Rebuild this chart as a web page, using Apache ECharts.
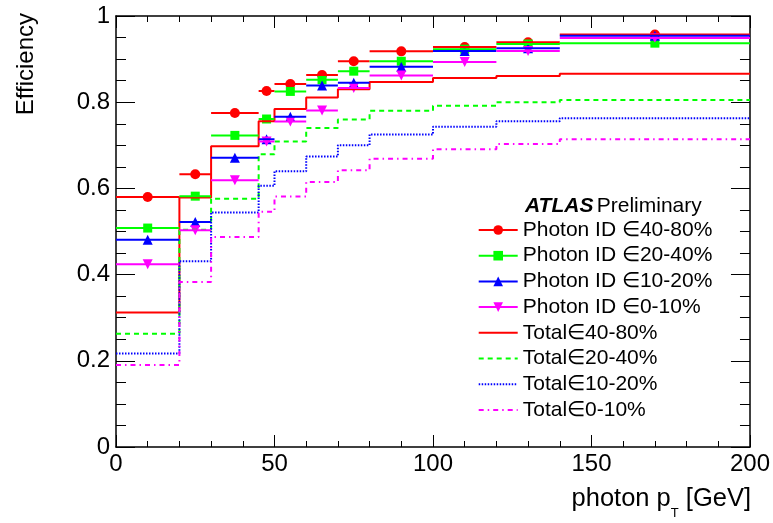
<!DOCTYPE html>
<html>
<head>
<meta charset="utf-8">
<script src="https://cdn.jsdelivr.net/npm/echarts@6/dist/echarts.min.js"></script>
<style>
html,body{margin:0;padding:0;background:#fff;}
#chart{width:773px;height:523px;}
</style>
</head>
<body>
<div id="chart"></div>
<script>
// ---- data ----
var binEdges   = [0, 20, 30, 45, 50, 60, 70, 80, 100, 120, 140, 200];
var binCenters = [10, 25, 37.5, 47.5, 55, 65, 75, 90, 110, 130, 170];

var idEff4080 = [0.580, 0.633, 0.775, 0.826, 0.842, 0.863, 0.895, 0.918, 0.928, 0.939, 0.957];
var idEff2040 = [0.508, 0.582, 0.723, 0.761, 0.825, 0.852, 0.872, 0.895, 0.923, 0.935, 0.937];
var idEff1020 = [0.481, 0.522, 0.671, 0.714, 0.766, 0.839, 0.845, 0.882, 0.919, 0.925, 0.954];
var idEff010  = [0.424, 0.503, 0.619, 0.709, 0.755, 0.781, 0.833, 0.862, 0.893, 0.919, 0.949];

var totEff4080 = [0.312, 0.579, 0.698, 0.756, 0.784, 0.811, 0.830, 0.847, 0.856, 0.861, 0.866];
var totEff2040 = [0.263, 0.504, 0.576, 0.679, 0.709, 0.740, 0.760, 0.780, 0.792, 0.800, 0.805];
var totEff1020 = [0.217, 0.431, 0.544, 0.606, 0.640, 0.674, 0.700, 0.725, 0.743, 0.756, 0.763];
var totEff010  = [0.190, 0.383, 0.487, 0.546, 0.581, 0.615, 0.642, 0.669, 0.691, 0.703, 0.714];

var xTicks = [0, 50, 100, 150, 200];
var yTicks = [0, 0.2, 0.4, 0.6, 0.8, 1];

var idNames  = ['Photon ID \u220840-80%', 'Photon ID \u220820-40%', 'Photon ID \u220810-20%', 'Photon ID \u22080-10%'];
var totNames = ['Total\u220840-80%', 'Total\u220820-40%', 'Total\u220810-20%', 'Total\u22080-10%'];

// ---- styling ----
var FONT = 'Liberation Sans, Arial, Helvetica, sans-serif';
var colors = ['#ff0000', '#00ff00', '#0000ff', '#ff00ff'];
var symbols = ['circle', 'rect', 'triangle', 'path://M0,0L10,0L5,9Z'];
var symSizes = [10, 9, 10, 10];
var dashes = ['solid', [5, 4], [1.5, 1.5], [5, 4, 1.5, 4]];

function stepData(vals) {
  return binEdges.map(function (e, i) { return [e, vals[Math.min(i, vals.length - 1)]]; });
}
function barData(vals) {
  var d = [];
  vals.forEach(function (v, i) {
    d.push([binEdges[i], v], [binEdges[i + 1], v], ['-', '-']);
  });
  return d;
}
function pointData(vals) {
  return vals.map(function (v, i) { return [binCenters[i], v]; });
}

var idVals = [idEff4080, idEff2040, idEff1020, idEff010];
var totVals = [totEff4080, totEff2040, totEff1020, totEff010];

var series = [];
totVals.forEach(function (vals, k) {
  series.push({
    name: totNames[k], type: 'line', step: 'end', symbol: 'none',
    data: stepData(vals), silent: true, animation: false,
    lineStyle: { color: colors[k], width: 2, type: dashes[k] },
    itemStyle: { color: colors[k] }
  });
});
idVals.forEach(function (vals, k) {
  series.push({
    name: idNames[k], type: 'line', showSymbol: false,
    symbol: symbols[k], symbolSize: symSizes[k],
    data: barData(vals), connectNulls: false, silent: true, animation: false,
    lineStyle: { color: colors[k], width: 2, type: 'solid' },
    itemStyle: { color: colors[k], borderWidth: 0 }
  });
  series.push({
    name: idNames[k] + ' markers', type: 'scatter',
    symbol: symbols[k], symbolSize: symSizes[k],
    data: pointData(vals), silent: true, animation: false,
    itemStyle: { color: colors[k], opacity: 1, borderWidth: 0 }
  });
});

var legendData = idNames.map(function (n) { return { name: n }; })
  .concat(totNames.map(function (n) { return { name: n, itemStyle: { opacity: 0 } }; }));

function xAxisCfg(pos) {
  return {
    type: 'value', position: pos, min: 0, max: 200, interval: 50,
    axisLine: { show: true, onZero: false, lineStyle: { color: '#000', width: 1.5 } },
    axisTick: { show: true, inside: true, length: 12, lineStyle: { color: '#000', width: 1 } },
    minorTick: { show: true, splitNumber: 5, length: 6, lineStyle: { color: '#000', width: 1 } },
    splitLine: { show: false }, minorSplitLine: { show: false },
    axisLabel: {
      show: pos === 'bottom', margin: 5, color: '#000', fontSize: 24, fontFamily: FONT,
      customValues: xTicks
    }
  };
}
function yAxisCfg(pos) {
  return {
    type: 'value', position: pos, min: 0, max: 1, interval: 0.2,
    axisLine: { show: true, onZero: false, lineStyle: { color: '#000', width: 1.5 } },
    axisTick: { show: true, inside: true, length: 19, lineStyle: { color: '#000', width: 1 } },
    minorTick: { show: true, splitNumber: 4, length: 10, lineStyle: { color: '#000', width: 1 } },
    splitLine: { show: false }, minorSplitLine: { show: false },
    axisLabel: {
      show: pos === 'left', margin: 6, color: '#000', fontSize: 24, fontFamily: FONT,
      formatter: function (v) { return String(Math.round(v * 10) / 10); }
    }
  };
}

var chart = echarts.init(document.getElementById('chart'), null, { renderer: 'canvas' });
chart.setOption({
  animation: false,
  backgroundColor: '#fff',
  grid: { left: 116, top: 16, width: 634, height: 431, containLabel: false },
  xAxis: [xAxisCfg('bottom'), xAxisCfg('top')],
  yAxis: [yAxisCfg('left'), yAxisCfg('right')],
  legend: {
    orient: 'vertical', left: 477.7, top: 219.5, padding: 0,
    itemWidth: 39, itemHeight: 12, itemGap: 4.7, itemTextGap: 9,
    selectedMode: false,
    textStyle: { fontSize: 21, fontFamily: FONT, color: '#000', lineHeight: 21 },
    data: legendData
  },
  graphic: [
    {
      type: 'text', x: 26, y: 13, rotation: Math.PI / 2,
      style: { text: 'Efficiency', fontSize: 24, fontFamily: FONT, fill: '#000', align: 'right', verticalAlign: 'middle' }
    },
    {
      type: 'text', x: 751, y: 486,
      style: {
        text: '{a|photon p}{s|T}{a| [GeV]}',
        align: 'right', verticalAlign: 'top',
        rich: {
          a: { fontSize: 25.5, fontFamily: FONT, fill: '#000', lineHeight: 25, verticalAlign: 'top' },
          s: { fontSize: 13, fontFamily: FONT, fill: '#000', lineHeight: 13, verticalAlign: 'top', padding: [21, 0, 0, 0] }
        }
      }
    },
    {
      type: 'text', x: 525, y: 206,
      style: {
        text: '{b|ATLAS} {r|Preliminary}',
        align: 'left', verticalAlign: 'middle',
        rich: {
          b: { fontSize: 21, fontFamily: FONT, fontWeight: 'bold', fontStyle: 'italic', fill: '#000' },
          r: { fontSize: 21, fontFamily: FONT, fill: '#000' }
        }
      }
    }
  ],
  series: series
});
</script>
</body>
</html>
